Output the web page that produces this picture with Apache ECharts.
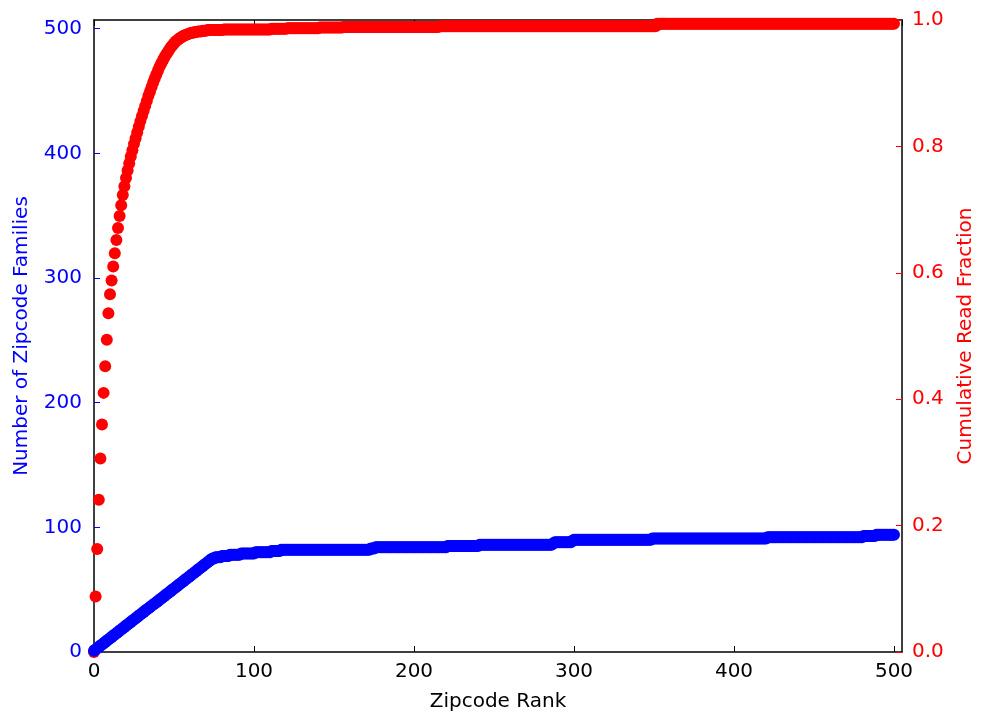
<!doctype html>
<html>
<head>
<meta charset="utf-8">
<style>
  html, body { margin: 0; padding: 0; background: #fff; overflow: hidden; }
  #chart-panel { width: 984px; height: 721px; }
</style>
<script src="https://cdn.jsdelivr.net/npm/echarts@6/dist/echarts.min.js"></script>
</head>
<body>
<div id="chart-panel"></div>
<script type="text/javascript">
// rank 0..500, one value per rank
var families = [
  1,
  2, 3, 4, 5, 6, 7, 8, 9, 10, 11, 12, 13, 14, 15, 16, 17, 18, 19, 20, 21,
  22, 23, 24, 25, 26, 27, 28, 29, 30, 31, 32, 33, 34, 35, 36, 37, 38, 39, 40, 41,
  42, 43, 44, 45, 46, 47, 48, 49, 50, 51, 52, 53, 54, 55, 56, 57, 58, 59, 60, 61,
  62, 63, 64, 65, 66, 67, 68, 69, 70, 71, 72, 73, 74, 75, 75, 76, 76, 76, 76, 77,
  77, 77, 77, 77, 78, 78, 78, 78, 78, 78, 78, 79, 79, 79, 79, 79, 79, 79, 79, 79,
  80, 80, 80, 80, 80, 80, 80, 80, 80, 80, 81, 81, 81, 81, 81, 81, 82, 82, 82, 82,
  82, 82, 82, 82, 82, 82, 82, 82, 82, 82, 82, 82, 82, 82, 82, 82, 82, 82, 82, 82,
  82, 82, 82, 82, 82, 82, 82, 82, 82, 82, 82, 82, 82, 82, 82, 82, 82, 82, 82, 82,
  82, 82, 82, 82, 82, 82, 82, 82, 82, 82, 82, 82, 83, 83, 83, 84, 84, 84, 84, 84,
  84, 84, 84, 84, 84, 84, 84, 84, 84, 84, 84, 84, 84, 84, 84, 84, 84, 84, 84, 84,
  84, 84, 84, 84, 84, 84, 84, 84, 84, 84, 84, 84, 84, 84, 84, 84, 84, 84, 84, 84,
  85, 85, 85, 85, 85, 85, 85, 85, 85, 85, 85, 85, 85, 85, 85, 85, 85, 85, 85, 85,
  86, 86, 86, 86, 86, 86, 86, 86, 86, 86, 86, 86, 86, 86, 86, 86, 86, 86, 86, 86,
  86, 86, 86, 86, 86, 86, 86, 86, 86, 86, 86, 86, 86, 86, 86, 86, 86, 86, 86, 86,
  86, 86, 86, 86, 86, 86, 87, 88, 88, 88, 88, 88, 88, 88, 88, 88, 88, 88, 89, 90,
  90, 90, 90, 90, 90, 90, 90, 90, 90, 90, 90, 90, 90, 90, 90, 90, 90, 90, 90, 90,
  90, 90, 90, 90, 90, 90, 90, 90, 90, 90, 90, 90, 90, 90, 90, 90, 90, 90, 90, 90,
  90, 90, 90, 90, 90, 90, 90, 90, 91, 91, 91, 91, 91, 91, 91, 91, 91, 91, 91, 91,
  91, 91, 91, 91, 91, 91, 91, 91, 91, 91, 91, 91, 91, 91, 91, 91, 91, 91, 91, 91,
  91, 91, 91, 91, 91, 91, 91, 91, 91, 91, 91, 91, 91, 91, 91, 91, 91, 91, 91, 91,
  91, 91, 91, 91, 91, 91, 91, 91, 91, 91, 91, 91, 91, 91, 91, 91, 91, 91, 91, 91,
  92, 92, 92, 92, 92, 92, 92, 92, 92, 92, 92, 92, 92, 92, 92, 92, 92, 92, 92, 92,
  92, 92, 92, 92, 92, 92, 92, 92, 92, 92, 92, 92, 92, 92, 92, 92, 92, 92, 92, 92,
  92, 92, 92, 92, 92, 92, 92, 92, 92, 92, 92, 92, 92, 92, 92, 92, 92, 92, 92, 92,
  93, 93, 93, 93, 93, 93, 93, 93, 94, 94, 94, 94, 94, 94, 94, 94, 94, 94, 94, 94
];

var readFraction = [
  0,
  .088, .163, .241, .306, .360, .410, .452, .494, .536, .566, .588, .610, .631, .652, .671, .690, .707, .723, .737, .750,
  .762, .773, .784, .794, .804, .813, .822, .831, .840, .848, .856, .864, .872, .880, .887, .894, .901, .908, .914, .920,
  .926, .931, .936, .941, .945, .949, .953, .957, .960, .963, .966, .968, .970, .972, .973, .975, .976, .977, .978, .979,
  .980, .980, .981, .981, .982, .982, .982, .983, .983, .983, .984, .984, .984, .984, .984, .984, .984, .984, .984, .984,
  .985, .985, .985, .985, .985, .985, .985, .985, .985, .985, .985, .985, .985, .985, .985, .985, .985, .985, .985, .985,
  .985, .985, .985, .985, .985, .985, .985, .985, .985, .985, .986, .986, .986, .986, .986, .986, .986, .986, .986, .986,
  .987, .987, .987, .987, .987, .987, .987, .987, .987, .987, .987, .987, .987, .987, .987, .987, .987, .987, .987, .987,
  .988, .988, .988, .988, .988, .988, .988, .988, .988, .988, .988, .988, .988, .988, .988, .989, .989, .989, .989, .989,
  .989, .989, .989, .989, .989, .989, .989, .989, .989, .989, .989, .989, .989, .989, .989, .989, .989, .989, .989, .989,
  .989, .989, .989, .989, .989, .989, .989, .989, .989, .989, .989, .989, .989, .989, .989, .989, .989, .989, .989, .989,
  .989, .989, .989, .989, .989, .989, .989, .989, .989, .989, .989, .989, .989, .989, .989, .990, .990, .990, .990, .990,
  .990, .990, .990, .990, .990, .990, .990, .990, .990, .990, .990, .990, .990, .990, .990, .990, .990, .990, .990, .990,
  .990, .990, .990, .990, .990, .990, .990, .990, .990, .990, .990, .990, .990, .990, .990, .990, .990, .990, .990, .990,
  .990, .990, .990, .990, .990, .990, .990, .990, .990, .990, .990, .990, .990, .990, .990, .990, .990, .990, .990, .990,
  .990, .990, .990, .990, .990, .990, .990, .990, .990, .990, .990, .990, .990, .990, .990, .990, .990, .990, .990, .990,
  .990, .990, .990, .990, .990, .990, .990, .990, .990, .990, .990, .990, .990, .990, .990, .990, .990, .990, .990, .990,
  .990, .990, .990, .990, .990, .990, .990, .990, .990, .990, .990, .990, .990, .990, .990, .990, .990, .990, .990, .990,
  .990, .990, .990, .990, .990, .990, .990, .990, .990, .990, .990, .994, .994, .994, .994, .994, .994, .994, .994, .994,
  .994, .994, .994, .994, .994, .994, .994, .994, .994, .994, .994, .994, .994, .994, .994, .994, .994, .994, .994, .994,
  .994, .994, .994, .994, .994, .994, .994, .994, .994, .994, .994, .994, .994, .994, .994, .994, .994, .994, .994, .994,
  .994, .994, .994, .994, .994, .994, .994, .994, .994, .994, .994, .994, .994, .994, .994, .994, .994, .994, .994, .994,
  .994, .994, .994, .994, .994, .994, .994, .994, .994, .994, .994, .994, .994, .994, .994, .994, .994, .994, .994, .994,
  .994, .994, .994, .994, .994, .994, .994, .994, .994, .994, .994, .994, .994, .994, .994, .994, .994, .994, .994, .994,
  .994, .994, .994, .994, .994, .994, .994, .994, .994, .994, .994, .994, .994, .994, .994, .994, .994, .994, .994, .994,
  .994, .994, .994, .994, .994, .994, .994, .994, .994, .994, .994, .994, .994, .994, .994, .994, .994, .994, .994, .994
];

var blueData = [];
for (var i = 0; i < families.length; i++) blueData.push([i, families[i]]);
var redData = [];
for (var j = 0; j < readFraction.length; j++) redData.push([j, readFraction[j]]);

var font = 'DejaVu Sans';
var myChart = echarts.init(document.getElementById('chart-panel'));

var option = {
  animation: false,
  backgroundColor: '#fff',
  grid: { left: 94, right: 74, top: 20, bottom: 69, show: false },
  xAxis: [{
    type: 'value', min: 0, max: 505, interval: 100, position: 'bottom',
    name: 'Zipcode Rank', nameLocation: 'middle', nameGap: 40,
    nameTextStyle: { color: '#000', fontSize: 20, fontFamily: font },
    axisLine: { show: true, onZero: false, lineStyle: { color: '#000', width: 1.5 } },
    axisTick: { show: true, inside: true, length: 6, lineStyle: { color: '#000' } },
    axisLabel: { color: '#000', fontSize: 20, fontFamily: font, margin: 10, showMaxLabel: false },
    splitLine: { show: false }
  }, {
    type: 'value', min: 0, max: 505, interval: 100, position: 'top',
    axisLine: { show: true, onZero: false, lineStyle: { color: '#000', width: 1.5 } },
    axisTick: { show: true, inside: true, length: 6, lineStyle: { color: '#000' } },
    axisLabel: { show: false },
    splitLine: { show: false }
  }],
  yAxis: [{
    type: 'value', min: 0, max: 507, interval: 100, position: 'left',
    name: 'Number of Zipcode Families', nameLocation: 'middle', nameGap: 62,
    nameTextStyle: { color: '#0000ff', fontSize: 20, fontFamily: font },
    axisLine: { show: true, onZero: false, lineStyle: { color: '#000', width: 1.5 } },
    axisTick: { show: true, inside: true, length: 6, lineStyle: { color: '#0000ff' } },
    axisLabel: { color: '#0000ff', fontSize: 20, fontFamily: font, margin: 12, showMaxLabel: false },
    splitLine: { show: false }
  }, {
    type: 'value', min: 0, max: 1, interval: 0.2, position: 'right',
    name: 'Cumulative Read Fraction', nameLocation: 'middle', nameGap: 54,
    nameTextStyle: { color: '#ff0000', fontSize: 20, fontFamily: font },
    axisLine: { show: true, onZero: false, lineStyle: { color: '#000', width: 1.5 } },
    axisTick: { show: true, inside: true, length: 6, lineStyle: { color: '#ff0000' } },
    axisLabel: {
      color: '#ff0000', fontSize: 20, fontFamily: font, margin: 10,
      formatter: function (v) { return v.toFixed(1); }
    },
    splitLine: { show: false }
  }],
  series: [{
    name: 'Cumulative Read Fraction',
    type: 'scatter',
    xAxisIndex: 0, yAxisIndex: 1,
    symbol: 'circle', symbolSize: 12,
    itemStyle: { color: '#ff0000', opacity: 1 },
    data: redData
  }, {
    name: 'Number of Zipcode Families',
    type: 'scatter',
    xAxisIndex: 0, yAxisIndex: 0,
    symbol: 'circle', symbolSize: 12,
    itemStyle: { color: '#0000ff', opacity: 1 },
    data: blueData
  }]
};
myChart.setOption(option);
</script>
</body>
</html>
